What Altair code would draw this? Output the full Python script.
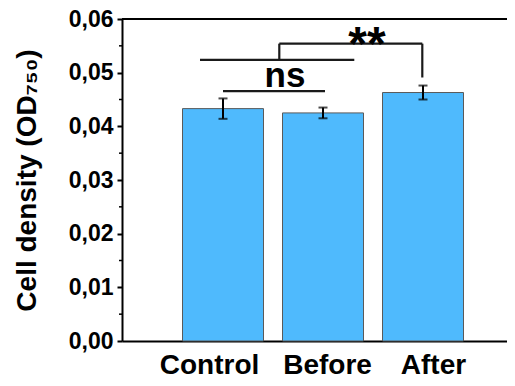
import altair as alt
import pandas as pd

categories = ["Control", "Before", "After"]
positions = [1, 2, 3]
means = [0.0433, 0.0425, 0.0463]
errors = [0.0019, 0.0010, 0.0013]

y_major = [0.0, 0.01, 0.02, 0.03, 0.04, 0.05, 0.06]
y_minor = [0.005, 0.015, 0.025, 0.035, 0.045, 0.055]

# significance brackets (segments in data space)
br_x = [1.0, 0.77, 1.563, 1.563, 2.993]
br_x2 = [2.02, 2.313, 1.563, 2.993, 2.993]
br_y = [0.04657, 0.05238, 0.05238, 0.05541, 0.05541]
br_y2 = [0.04657, 0.05238, 0.05541, 0.05541, 0.04910]

sig_text = ["ns", "**"]
sig_x = [1.62, 2.44]
sig_y = [0.04737, 0.05233]
sig_size = [35, 48]

df = pd.DataFrame({"cat": categories, "pos": positions, "mean": means, "err": errors})
df["lo"] = df["mean"] - df["err"]
df["hi"] = df["mean"] + df["err"]

br = pd.DataFrame({"x": br_x, "x2": br_x2, "y": br_y, "y2": br_y2})
sig = pd.DataFrame({"t": sig_text, "x": sig_x, "y": sig_y, "s": sig_size})
minor = pd.DataFrame({"v": y_minor})

FONT = "Liberation Sans"
W, H = 385, 322

xscale = alt.Scale(domain=[-0.01, 3.84], nice=False, zero=False, padding=0)
yscale = alt.Scale(domain=[0, 0.06], nice=False, padding=0)

label_expr = "datum.value == 1 ? 'Control' : datum.value == 2 ? 'Before' : datum.value == 3 ? 'After' : ''"

base = alt.Chart(df)

bars = base.mark_bar(size=81, color="#4FBAFD", stroke="#5a5a5a", strokeWidth=1).encode(
    x=alt.X("pos:Q", scale=xscale,
            axis=alt.Axis(values=positions, labelExpr=label_expr, title=None,
                          ticks=False, tickSize=0, labelPadding=10,
                          labelFont=FONT, labelFontSize=28, labelFontWeight="bold",
                          labelColor="black", domainColor="black", domainWidth=2,
                          grid=False,
                          labelOffset={"condition": [{"test": "datum.value == 1", "value": -14},
                                                      {"test": "datum.value == 3", "value": 10}],
                                       "value": 4})),
    y=alt.Y("mean:Q", scale=yscale,
            axis=alt.Axis(values=y_major,
                          labelExpr="replace(format(datum.value, '.2f'), '.', ',')",
                          title="Cell density (OD₇₅₀)",
                          titleFont=FONT, titleFontSize=28, titleFontWeight="bold",
                          titleColor="black", titlePadding=27,
                          labelFont=FONT, labelFontSize=23, labelFontWeight="bold",
                          labelColor="black", labelPadding=4,
                          tickSize=5, tickWidth=2, tickColor="black",
                          domainColor="black", domainWidth=2, grid=False)),
)

err_rule = base.mark_rule(color="black", strokeWidth=2).encode(
    x="pos:Q", y="lo:Q", y2="hi:Q")
cap_lo = base.mark_tick(color="black", orient="horizontal", size=9, thickness=2).encode(
    x="pos:Q", y="lo:Q")
cap_hi = base.mark_tick(color="black", orient="horizontal", size=9, thickness=2).encode(
    x="pos:Q", y="hi:Q")

brackets = alt.Chart(br).mark_rule(color="#1a1a1a", strokeWidth=2.2).encode(
    x="x:Q", x2="x2:Q", y="y:Q", y2="y2:Q")

sig_marks = alt.Chart(sig).mark_text(font=FONT, fontWeight="bold", color="black",
                                     align="center", baseline="alphabetic").encode(
    x="x:Q", y="y:Q", text="t:N", size=alt.Size("s:Q", scale=None, legend=None))

minor_ticks = alt.Chart(minor).mark_rule(color="black", strokeWidth=1.5).encode(
    x=alt.value(-3), x2=alt.value(0), y="v:Q")

top_line = alt.Chart(df).mark_rule(color="black", strokeWidth=2).encode(
    y=alt.datum(0.06), x=alt.value(0), x2=alt.value(W))

chart = alt.layer(bars, err_rule, cap_lo, cap_hi, brackets, sig_marks, minor_ticks, top_line).properties(
    width=W, height=H,
    autosize=alt.AutoSizeParams(type="none"),
    padding={"left": 114, "top": 11, "right": 0, "bottom": 37},
).configure_view(stroke=None).configure(background="white")

chart.save("out.html", embed_options={"renderer": "svg", "actions": False})
